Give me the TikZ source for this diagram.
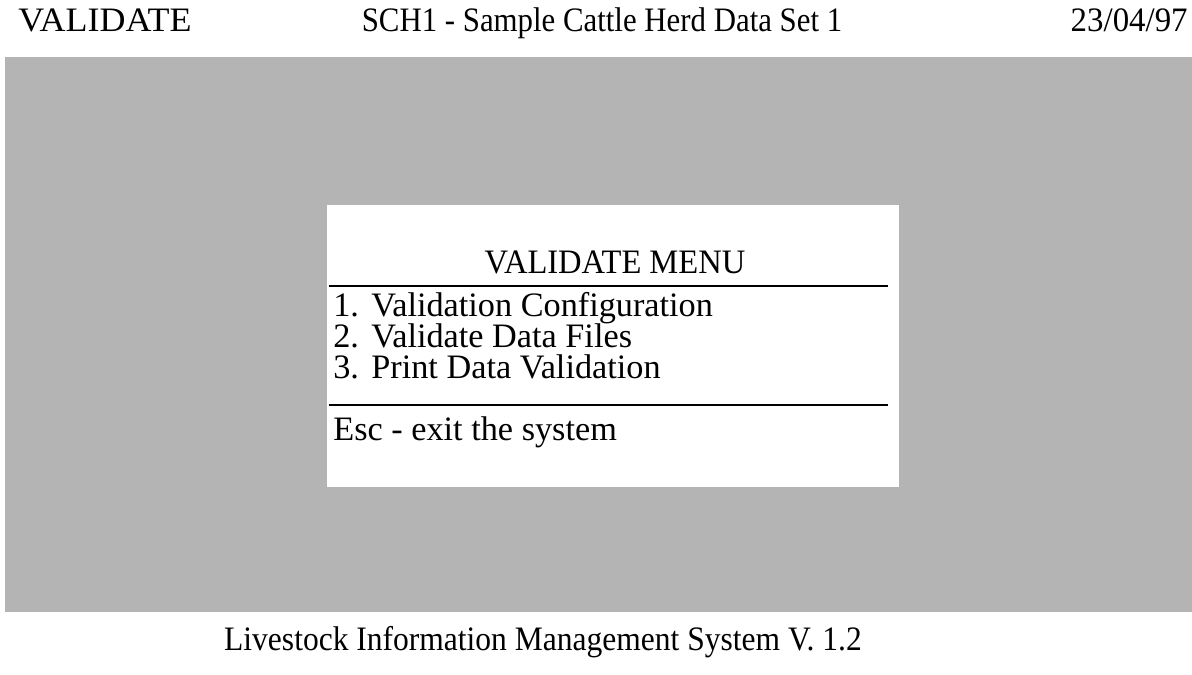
\documentclass[tikz,border=0pt]{standalone}
\usepackage{fontspec}
\setmainfont{Liberation Serif}
\definecolor{screengray}{RGB}{180,180,180}
\tikzset{
	scrtxt/.style={font=\fontsize{19.5}{22}\selectfont, inner sep=0pt, anchor=base},
	menuitem/.style={scrtxt, anchor=base west},
	sepline/.style={line width=0.8pt}
}
\begin{document}
\begin{tikzpicture}[x=0.02cm,y=-0.02cm]
			\useasboundingbox (0,0) rectangle (1192,674);
			\fill[screengray] (5,57) rectangle (1192,612);
			\fill[white] (327,205) rectangle (899,487);
			\node[scrtxt,anchor=base west,xscale=1.05] (mode) at (18,31) {VALIDATE};
			\node[scrtxt,xscale=0.9] (herd) at (602,31) {SCH1 - Sample Cattle Herd Data Set 1};
			\node[scrtxt,anchor=base east,xscale=0.96] (date) at (1188,31) {23/04/97};
			\node[scrtxt,xscale=0.95] (title) at (615,273) {VALIDATE MENU};
			\coordinate (sepa) at (329,286);
			\coordinate (sepb) at (329,405);
			\draw[sepline] (sepa) -- ++(559,0);
			\draw[sepline] (sepb) -- ++(559,0);
			\node[menuitem] (n1) at (333,316) {1.};
			\node[menuitem] (i1) at (371,316) {Validation Configuration};
			\node[menuitem] (n2) at (333,347) {2.};
			\node[menuitem] (i2) at (371,347) {Validate Data Files};
			\node[menuitem] (n3) at (333,378) {3.};
			\node[menuitem] (i3) at (371,378) {Print Data Validation};
			\node[menuitem] (esc) at (333,440) {Esc - exit the system};
			\node[scrtxt,xscale=0.92] (footer) at (543,650) {Livestock Information Management System V. 1.2};
		\end{tikzpicture}
\end{document}
